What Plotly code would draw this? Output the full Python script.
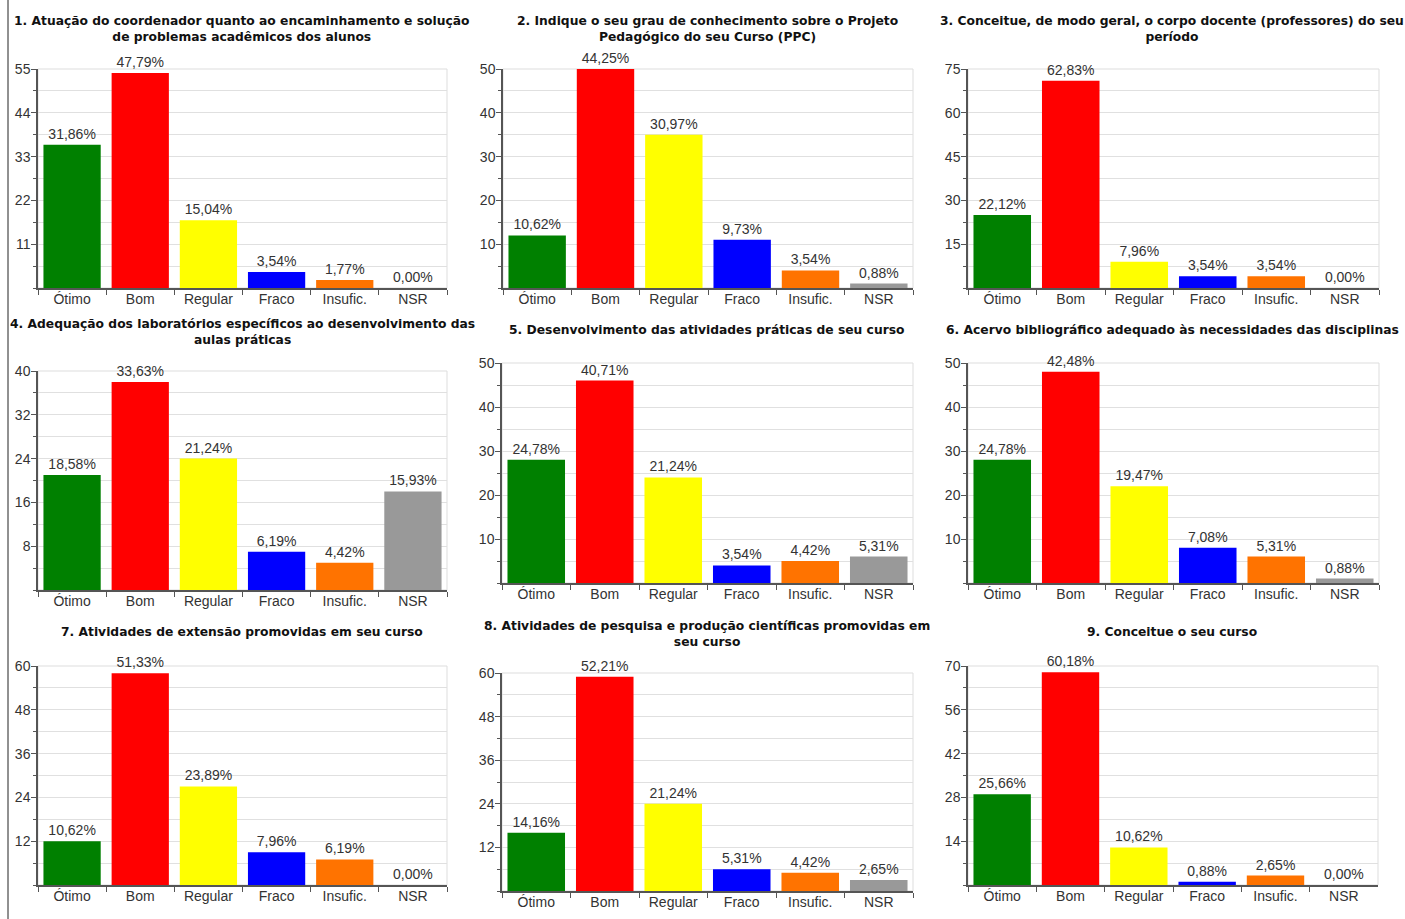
import plotly.graph_objects as go

W, H = 1405, 919

categories = ["Ótimo", "Bom", "Regular", "Fraco", "Insufic.", "NSR"]
bar_colors = ["#008000", "#ff0000", "#ffff00", "#0000ff", "#ff7300", "#999999"]

titles = [
    "1. Atuação do coordenador quanto ao encaminhamento e solução<br>de problemas acadêmicos dos alunos",
    "2. Indique o seu grau de conhecimento sobre o Projeto<br>Pedagógico do seu Curso (PPC)",
    "3. Conceitue, de modo geral, o corpo docente (professores) do seu<br>período",
    "4. Adequação dos laboratórios específicos ao desenvolvimento das<br>aulas práticas",
    "5. Desenvolvimento das atividades práticas de seu curso",
    "6. Acervo bibliográfico adequado às necessidades das disciplinas",
    "7. Atividades de extensão promovidas em seu curso",
    "8. Atividades de pesquisa e produção científicas promovidas em<br>seu curso",
    "9. Conceitue o seu curso",
]

counts_1 = [36, 54, 17, 4, 2, 0]
counts_2 = [12, 50, 35, 11, 4, 1]
counts_3 = [25, 71, 9, 4, 4, 0]
counts_4 = [21, 38, 24, 7, 5, 18]
counts_5 = [28, 46, 24, 4, 5, 6]
counts_6 = [28, 48, 22, 8, 6, 1]
counts_7 = [12, 58, 27, 9, 7, 0]
counts_8 = [16, 59, 24, 6, 5, 3]
counts_9 = [29, 68, 12, 1, 3, 0]

pct_1 = [31.86, 47.79, 15.04, 3.54, 1.77, 0.00]
pct_2 = [10.62, 44.25, 30.97, 9.73, 3.54, 0.88]
pct_3 = [22.12, 62.83, 7.96, 3.54, 3.54, 0.00]
pct_4 = [18.58, 33.63, 21.24, 6.19, 4.42, 15.93]
pct_5 = [24.78, 40.71, 21.24, 3.54, 4.42, 5.31]
pct_6 = [24.78, 42.48, 19.47, 7.08, 5.31, 0.88]
pct_7 = [10.62, 51.33, 23.89, 7.96, 6.19, 0.00]
pct_8 = [14.16, 52.21, 21.24, 5.31, 4.42, 2.65]
pct_9 = [25.66, 60.18, 10.62, 0.88, 2.65, 0.00]

y_max = [55, 50, 75, 40, 50, 50, 60, 60, 70]
y_step = [11, 10, 15, 8, 10, 10, 12, 12, 14]

all_counts = [counts_1, counts_2, counts_3, counts_4, counts_5, counts_6, counts_7, counts_8, counts_9]
all_pct = [pct_1, pct_2, pct_3, pct_4, pct_5, pct_6, pct_7, pct_8, pct_9]

# plot areas in pixels: (x0, x1, y0_top, y1_bottom)
areas = [
    (38, 447, 69, 288), (503, 913, 69, 288), (968, 1379, 69, 288),
    (38, 447, 371, 590), (502, 913, 363, 583), (968, 1379, 363, 583),
    (38, 447, 666, 885), (502, 913, 673, 891), (968, 1378, 666, 885),
]
# title centre x, and anchor (top) y in pixels
title_pos = [
    (242, 12), (707, 12), (1172, 12),
    (242, 315), (707, 321), (1172, 321),
    (242, 623), (707, 617), (1172, 623),
]

TICK_FONT = dict(family="Liberation Sans, Arial, sans-serif", size=14, color="#333333")
TITLE_FONT = dict(family="DejaVu Sans, Verdana, sans-serif", size=12.3, color="#111111")

fig = go.Figure()
layout = dict(
    width=W, height=H, margin=dict(l=0, r=0, t=0, b=0, autoexpand=False),
    paper_bgcolor="white", plot_bgcolor="white", showlegend=False,
    bargap=0.16, annotations=[], shapes=[],
)

for i in range(9):
    k = "" if i == 0 else str(i + 1)
    x0, x1, y0, y1 = areas[i]
    labels = [f"{p:.2f}%".replace(".", ",") for p in all_pct[i]]
    fig.add_trace(go.Bar(
        x=categories, y=all_counts[i], xaxis="x" + k, yaxis="y" + k,
        marker=dict(color=bar_colors, line=dict(width=0)),
        text=labels, textposition="outside", cliponaxis=False,
        textfont=TICK_FONT, hoverinfo="skip",
    ))
    step = y_step[i]
    layout["xaxis" + k] = dict(
        domain=[x0 / W, x1 / W], anchor="y" + k, automargin=False,
        showline=True, linecolor="#555555", linewidth=1.5,
        ticks="outside", tickson="boundaries", ticklen=5, tickcolor="#555555",
        ticklabelstandoff=-3,
        tickfont=TICK_FONT, showgrid=False, fixedrange=True,
    )
    layout["yaxis" + k] = dict(
        domain=[1 - y1 / H, 1 - y0 / H], anchor="x" + k, automargin=False,
        range=[0, y_max[i]],
        tickvals=[step * j for j in range(1, 6)],
        showline=True, linecolor="#555555", linewidth=1.5,
        ticks="outside", ticklen=5, tickcolor="#555555",
        ticklabelstandoff=-2,
        tickfont=TICK_FONT, showgrid=True, gridcolor="#e0e0e0", gridwidth=1,
        minor=dict(dtick=step / 2, tick0=0, showgrid=True, gridcolor="#e0e0e0",
                   ticks="outside", ticklen=3, tickcolor="#555555"),
        zeroline=False, fixedrange=True,
    )
    layout["shapes"].append(dict(
        type="rect", xref=f"x{k} domain", yref=f"y{k} domain",
        x0=0, x1=1, y0=0, y1=1, line=dict(color="#dddddd", width=1), layer="below",
    ))
    tx, ty = title_pos[i]
    layout["annotations"].append(dict(
        text="<b>" + titles[i] + "</b>", xref="paper", yref="paper",
        x=tx / W, y=1 - ty / H, xanchor="center", yanchor="top",
        showarrow=False, font=TITLE_FONT, align="center",
    ))

layout["shapes"].append(dict(
    type="line", xref="paper", yref="paper", x0=8 / W, x1=8 / W, y0=0, y1=1,
    line=dict(color="#222222", width=1),
))

fig.update_layout(**layout)
fig.write_html(
    "out.html",
    config={"displayModeBar": False},
    post_script="document.body.style.margin='0px';document.body.style.overflow='hidden';",
)
